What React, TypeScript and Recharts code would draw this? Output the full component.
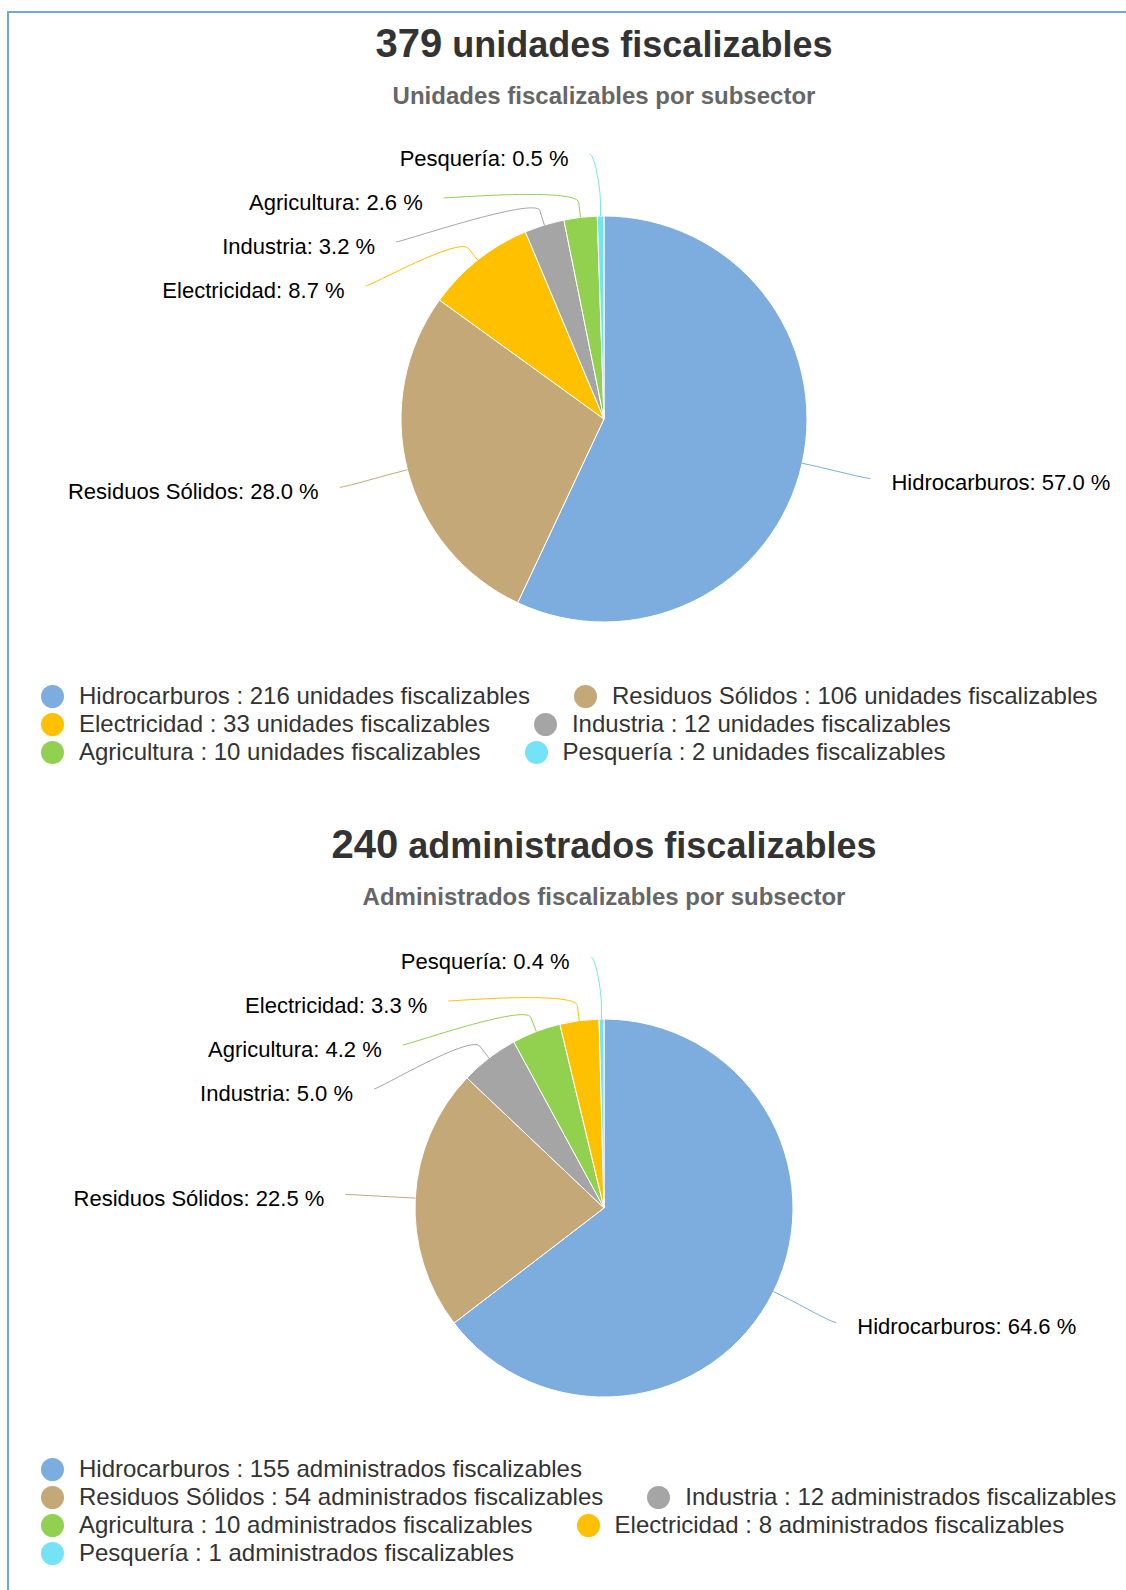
import { PieChart, Pie, Cell } from "recharts";

// chart 1: unidades fiscalizables por subsector
const SECTORS_1 = ["Hidrocarburos", "Residuos Sólidos", "Electricidad", "Industria", "Agricultura", "Pesquería"];
const UNITS_1 = [216, 106, 33, 12, 10, 2];

// chart 2: administrados fiscalizables por subsector
const SECTORS_2 = ["Hidrocarburos", "Residuos Sólidos", "Industria", "Agricultura", "Electricidad", "Pesquería"];
const ADMIN_2 = [155, 54, 12, 10, 8, 1];

const COLORS: Record<string, string> = {
  Hidrocarburos: "#7cadde",
  "Residuos Sólidos": "#c4a878",
  Electricidad: "#ffc000",
  Industria: "#a5a5a5",
  Agricultura: "#92d050",
  Pesquería: "#74e3f6",
};

const FONT = '"Liberation Sans", Arial, sans-serif';
const RAD = Math.PI / 180;

const polar = (cx: number, cy: number, r: number, a: number) => ({
  x: cx + r * Math.cos(-a * RAD),
  y: cy + r * Math.sin(-a * RAD),
});

const sum = (v: number[]) => v.reduce((s, x) => s + x, 0);

// outside labels with connectors, spread vertically so they do not overlap
function makeLabel(names: string[], values: number[]) {
  const total = sum(values);
  const mids: number[] = [];
  let start = 90;
  values.forEach((v) => {
    const span = (v / total) * 360;
    mids.push(start - span / 2);
    start -= span;
  });

  return (props: any) => {
    const { cx, cy, outerRadius } = props;
    const index = props.index ?? names.indexOf(props.name);
    const rl = outerRadius + 70;
    const minY = cy - rl + 8;

    const items = mids.map((a, i) => {
      const p = polar(cx, cy, rl, a);
      return { i, left: p.x < cx, ny: p.y, y: p.y, x: p.x };
    });
    [true, false].forEach((side) => {
      const list = items.filter((it) => it.left === side).sort((a, b) => a.ny - b.ny);
      let prev = -Infinity;
      list.forEach((it) => {
        it.y = Math.max(it.ny, prev + 44, minY);
        prev = it.y;
        // labels stuck at the top keep the x of their natural position
        const atTop = it.y <= minY + 2;
        const yy = atTop ? it.ny : it.y;
        const dx = Math.sqrt(Math.max(0, rl * rl - (yy - cy) * (yy - cy))) + (atTop ? 10 : 0);
        it.x = cx + (side ? -dx : dx);
      });
    });

    const it = items[index];
    const mid = mids[index];
    const name = names[index];
    const color = COLORS[name];
    const touch = polar(cx, cy, outerRadius, mid);
    const brk = polar(cx, cy, outerRadius + 15, mid);
    const d = `M ${it.x} ${it.y} C ${it.x + (it.left ? 5 : -5)} ${it.y} ${2 * brk.x - touch.x} ${2 * brk.y - touch.y} ${brk.x} ${brk.y} L ${touch.x} ${touch.y}`;
    const pct = ((values[index] / total) * 100).toFixed(1);

    return (
      <g>
        <path d={d} stroke={color} strokeWidth={1} fill="none" />
        <text
          x={it.left ? it.x - 21 : it.x + 21}
          y={it.y + 4}
          dy="0.35em"
          textAnchor={it.left ? "end" : "start"}
          fontSize={22}
          fontFamily={FONT}
          fill="#000"
        >
          {name}: {pct} %
        </text>
      </g>
    );
  };
}

const LegendBlock = ({ names, values, unit, top }: { names: string[]; values: number[]; unit: string; top: number }) => (
  <div
    style={{
      position: "absolute",
      left: 41,
      top,
      width: 1085,
      display: "flex",
      flexWrap: "wrap",
      columnGap: 44,
      fontSize: 24,
      lineHeight: "28px",
      color: "#333",
      fontFamily: FONT,
    }}
  >
    {names.map((n, i) => (
      <div key={n} style={{ display: "flex", alignItems: "center", whiteSpace: "nowrap" }}>
        <span
          style={{
            width: 23,
            height: 23,
            borderRadius: "50%",
            background: COLORS[n],
            marginRight: 15,
            flex: "none",
          }}
        />
        {n} : {values[i]} {unit}
      </div>
    ))}
  </div>
);

export default function App() {
  const data1 = SECTORS_1.map((name, i) => ({ name, value: UNITS_1[i] }));
  const data2 = SECTORS_2.map((name, i) => ({ name, value: ADMIN_2[i] }));

  return (
    <div style={{ position: "absolute", left: 0, top: 0, width: 1126, height: 1590, background: "#fff", overflow: "hidden" }}>
      <div
        style={{
          position: "absolute",
          left: 7,
          top: 11,
          width: 1119,
          height: 1579,
          borderLeft: "2px solid #72a6de",
          borderTop: "2px solid #72a6de",
          boxSizing: "border-box",
        }}
      />
      <div style={{ position: "absolute", left: 0, top: 0 }}>
        <PieChart width={1126} height={1590} margin={{ top: 0, right: 0, bottom: 0, left: 0 }}>
          <Pie
            data={data1}
            dataKey="value"
            nameKey="name"
            cx={604}
            cy={419}
            outerRadius={203}
            startAngle={90}
            endAngle={-270}
            stroke="#fff"
            strokeWidth={1}
            labelLine={false}
            label={makeLabel(SECTORS_1, UNITS_1)}
            isAnimationActive={false}
          >
            {data1.map((d) => (
              <Cell key={d.name} fill={COLORS[d.name]} />
            ))}
          </Pie>
          <Pie
            data={data2}
            dataKey="value"
            nameKey="name"
            cx={604}
            cy={1208}
            outerRadius={189}
            startAngle={90}
            endAngle={-270}
            stroke="#fff"
            strokeWidth={1}
            labelLine={false}
            label={makeLabel(SECTORS_2, ADMIN_2)}
            isAnimationActive={false}
          >
            {data2.map((d) => (
              <Cell key={d.name} fill={COLORS[d.name]} />
            ))}
          </Pie>
        </PieChart>
      </div>
      <svg width={1126} height={1590} style={{ position: "absolute", left: 0, top: 0, pointerEvents: "none" }}>
        <text x={604} y={57} textAnchor="middle" fontFamily={FONT} fontWeight="bold" fill="#333">
          <tspan fontSize={40}>{sum(UNITS_1)}</tspan>
          <tspan fontSize={36}> unidades fiscalizables</tspan>
        </text>
        <text x={604} y={104} textAnchor="middle" fontFamily={FONT} fontWeight="bold" fontSize={24} fill="#666">
          Unidades fiscalizables por subsector
        </text>
        <text x={604} y={858} textAnchor="middle" fontFamily={FONT} fontWeight="bold" fill="#333">
          <tspan fontSize={40}>{sum(ADMIN_2)}</tspan>
          <tspan fontSize={36}> administrados fiscalizables</tspan>
        </text>
        <text x={604} y={905} textAnchor="middle" fontFamily={FONT} fontWeight="bold" fontSize={24} fill="#666">
          Administrados fiscalizables por subsector
        </text>
      </svg>
      <LegendBlock names={SECTORS_1} values={UNITS_1} unit="unidades fiscalizables" top={682} />
      <LegendBlock names={SECTORS_2} values={ADMIN_2} unit="administrados fiscalizables" top={1455} />
    </div>
  );
}
